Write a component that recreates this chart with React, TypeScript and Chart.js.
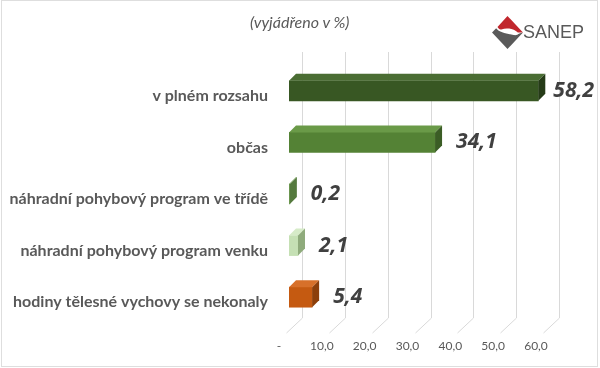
import React, { useEffect, useRef } from "react";
import { Chart, registerables } from "chart.js";

Chart.register(...registerables);

const categories = [
  "v plném rozsahu",
  "občas",
  "náhradní pohybový program ve třídě",
  "náhradní pohybový program venku",
  "hodiny tělesné vychovy se nekonaly",
];
const values = [58.2, 34.1, 0.2, 2.1, 5.4];
const xTickLabels = ["-", "10,0", "20,0", "30,0", "40,0", "50,0", "60,0"];
const frontColors = ["#385723", "#548235", "#6f9a52", "#c5e0b4", "#c55a11"];
const topColors = ["#4a6d33", "#6a9a48", "#86ad6a", "#d6ebc8", "#d7702a"];
const sideColors = ["#253b17", "#3b5d25", "#557a3e", "#8fab7c", "#8c3f0b"];

const DEPTH = 7;

const threeD = {
  id: "threeD",
  beforeDatasetsDraw(chart: any) {
    const ctx = chart.ctx;
    const xs = chart.scales.x;
    const area = chart.chartArea;
    const backY = area.bottom - 5;
    const frontY = area.bottom + 10;
    ctx.save();
    ctx.strokeStyle = "#d9d9d9";
    ctx.lineWidth = 1;
    xs.ticks.forEach((t: any) => {
      const px = Math.round(xs.getPixelForValue(t.value)) + 0.5;
      ctx.beginPath();
      ctx.moveTo(px + 13, 52);
      ctx.lineTo(px + 13, backY);
      ctx.lineTo(px - 3, frontY);
      ctx.stroke();
    });
    ctx.restore();
  },
  afterDatasetsDraw(chart: any) {
    const ctx = chart.ctx;
    const meta = chart.getDatasetMeta(0);
    ctx.save();
    meta.data.forEach((bar: any, i: number) => {
      const { x, y, base, height } = bar.getProps(["x", "y", "base", "height"], true);
      const top = y - height / 2;
      const bottom = y + height / 2;
      const d = DEPTH;
      ctx.fillStyle = topColors[i];
      ctx.beginPath();
      ctx.moveTo(base, top);
      ctx.lineTo(x, top);
      ctx.lineTo(x + d, top - d);
      ctx.lineTo(base + d, top - d);
      ctx.closePath();
      ctx.fill();
      ctx.fillStyle = sideColors[i];
      ctx.beginPath();
      ctx.moveTo(x, top);
      ctx.lineTo(x + d, top - d);
      ctx.lineTo(x + d, bottom - d);
      ctx.lineTo(x, bottom);
      ctx.closePath();
      ctx.fill();

      const label = values[i].toFixed(1).replace(".", ",");
      ctx.font = "italic bold 21px 'Open Sans'";
      ctx.fillStyle = "#404040";
      ctx.textBaseline = "middle";
      ctx.textAlign = "left";
      const w = ctx.measureText(label).width;
      const lx = Math.min(x + 21, chart.width - 6 - w);
      ctx.fillText(label, lx, y);
    });
    ctx.restore();
  },
};

export default function App() {
  const ref = useRef<HTMLCanvasElement>(null);
  useEffect(() => {
    if (!ref.current) return;
    const chart = new Chart(ref.current, {
      type: "bar",
      data: {
        labels: categories,
        datasets: [
          {
            data: values,
            backgroundColor: frontColors,
            borderWidth: 0,
            barThickness: 20,
          },
        ],
      },
      options: {
        indexAxis: "y",
        responsive: false,
        animation: false,
        layout: { padding: { top: 65, right: 54, left: 0, bottom: 0 } },
        plugins: { legend: { display: false }, tooltip: { enabled: false } },
        scales: {
          x: {
            min: 0,
            max: 60,
            ticks: {
              stepSize: 10,
              callback: (_v: any, i: number) => xTickLabels[i],
              color: "#595959",
              font: { family: "Lato", size: 12 },
              padding: 16,
              labelOffset: -10,
              maxRotation: 0,
            },
            grid: { display: false, drawTicks: false },
            border: { display: false },
            afterFit: (s: any) => {
              s.height = 45;
            },
          },
          y: {
            ticks: {
              color: "#595959",
              font: { family: "Lato", size: 16, weight: "bold" },
              padding: 21,
              labelOffset: 5,
            },
            grid: { display: false, drawTicks: false },
            border: { display: false },
            afterFit: (s: any) => {
              s.width = 289;
            },
          },
        },
      },
      plugins: [threeD],
    } as any);
    return () => chart.destroy();
  }, []);

  return (
    <div style={{ position: "absolute", left: 0, top: 0, width: 600, height: 368, background: "#fff", overflow: "hidden" }}>
      <canvas ref={ref} width={600} height={368} style={{ position: "absolute", left: 0, top: 0 }} />
      <div
        style={{
          position: "absolute",
          left: 1,
          top: 0,
          width: 597,
          height: 367,
          boxSizing: "border-box",
          border: "1px solid #dedede",
          pointerEvents: "none",
        }}
      />
      <div
        style={{
          position: "absolute",
          left: 250,
          top: 11,
          fontFamily: "Lato",
          fontStyle: "italic",
          fontSize: 16,
          lineHeight: "22px",
          color: "#595959",
          whiteSpace: "nowrap",
        }}
      >
        (vyjádřeno v %)
      </div>
      <svg style={{ position: "absolute", left: 492, top: 16 }} width={31} height={33} viewBox="0 0 30 32">
        <path d="M15 0 L30 16 L25 16 C21 12 14 11 9 13 C7 13.5 6 11.5 5.3 10.7 Z" fill="#c1272d" />
        <path d="M0 16 L4 11.8 C7 16 14 17 21 18.5 C23.5 19 25 18 26.5 17 L30 16 L15 32 Z" fill="#5a5a5a" />
      </svg>
      <div
        style={{
          position: "absolute",
          left: 523,
          top: 22,
          fontFamily: "'Liberation Sans', Arial, sans-serif",
          fontSize: 18,
          lineHeight: "20px",
          color: "#595959",
          whiteSpace: "nowrap",
        }}
      >
        SANEP
      </div>
    </div>
  );
}
